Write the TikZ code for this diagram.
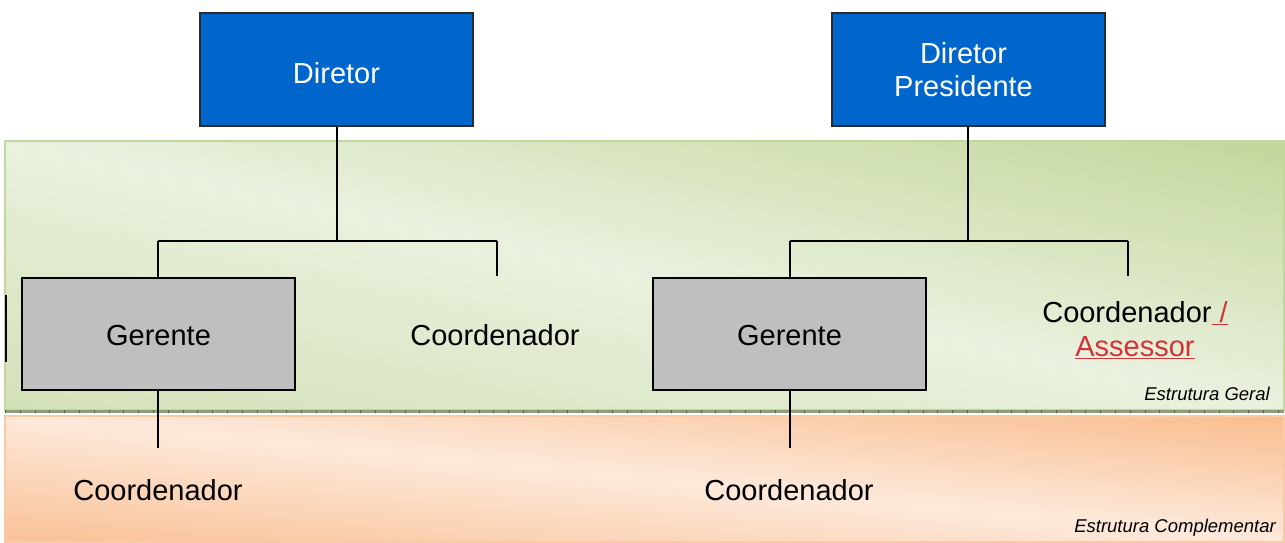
\documentclass[tikz,border=0pt]{standalone}
\usepackage{fontspec}
\setmainfont{Liberation Sans}
\definecolor{blueBox}{HTML}{0066CC}
\definecolor{blueEdge}{HTML}{2B2B2B}
\definecolor{grayBox}{HTML}{BFBFBF}
\definecolor{gDark}{HTML}{C3D69B}
\definecolor{gLight}{HTML}{EAF1DE}
\definecolor{gMid}{HTML}{D3E1B8}
\definecolor{oDark}{HTML}{F9BD8E}
\definecolor{oLight}{HTML}{FDE9DB}
\definecolor{oMid}{HTML}{F9C196}
\definecolor{sepCol}{HTML}{8E9E78}
\definecolor{redLink}{HTML}{D13438}
\tikzset{
  topbox/.style={draw=blueEdge, line width=1.5pt, fill=blueBox, text=white, minimum width=273pt, minimum height=113pt, inner sep=0pt, align=center, font=\fontsize{29}{33}\selectfont},
  grbox/.style={draw=black, line width=1.8pt, fill=grayBox, minimum width=273pt, minimum height=112pt, inner sep=0pt, font=\fontsize{29}{33}\selectfont, text height=23pt, text depth=0pt},
  plain/.style={inner sep=0pt, align=center, font=\fontsize{29}{34}\selectfont},
  band/.style={font=\fontsize{18.5}{20}\selectfont\itshape, inner sep=0pt},
  conn/.style={line width=1.5pt, draw=black}
}
% stripes: center (#1,#2), diagonal unit vector (#3,#4), half width #5, colours low/mid/high #6 #7 #8
\newcommand\bandgrad[8]{%
  \foreach \k in {-30,...,29}{%
    \pgfmathsetmacro\ta{\k/30}%
    \pgfmathsetmacro\tb{(\k+1.3)/30}%
    \pgfmathsetmacro\tm{(\k+0.5)/30}%
    \pgfmathsetmacro\nx{#4}%
    \pgfmathsetmacro\ny{-#3}%
    \pgfmathsetmacro\ax{#1+\ta*#5*\nx-800*#3}%
    \pgfmathsetmacro\ay{#2+\ta*#5*\ny-800*#4}%
    \pgfmathsetmacro\bx{#1+\ta*#5*\nx+800*#3}%
    \pgfmathsetmacro\by{#2+\ta*#5*\ny+800*#4}%
    \pgfmathsetmacro\cx{#1+\tb*#5*\nx+800*#3}%
    \pgfmathsetmacro\cy{#2+\tb*#5*\ny+800*#4}%
    \pgfmathsetmacro\dx{#1+\tb*#5*\nx-800*#3}%
    \pgfmathsetmacro\dy{#2+\tb*#5*\ny-800*#4}%
    \ifdim\tm pt<0pt
      \pgfmathsetmacro\pp{-100*\tm}%
      \colorlet{stripecol}{#6!\pp!#7}%
    \else
      \pgfmathsetmacro\pp{100*\tm}%
      \colorlet{stripecol}{#8!\pp!#7}%
    \fi
    \fill[stripecol] (\ax,\ay) -- (\bx,\by) -- (\cx,\cy) -- (\dx,\dy) -- cycle;
  }%
}
\begin{document}
\begin{tikzpicture}[x=1pt,y=-1pt]
\useasboundingbox (0,0) rectangle (1285,543);
% green band
\begin{scope}
\clip (5,141) rectangle (1284,410);
\bandgrad{644.5}{275.5}{0.9786}{0.2058}{264}{gMid}{gLight}{gDark}
\end{scope}
\draw[gDark, line width=2pt] (5,141) rectangle (1284,410);
% orange band
\begin{scope}
\clip (5,416) rectangle (1284,542);
\bandgrad{644.5}{479}{0.9952}{0.0980}{126}{oMid}{oLight}{oDark}
\end{scope}
\draw[oDark!80, line width=1.5pt] (5,416) rectangle (1284,542);
% separator
\draw[sepCol, line width=2.5pt] (5,411.5) -- (1284,411.5);
\draw[sepCol!60!black, line width=2.5pt, dash pattern=on 0.8pt off 14pt] (5,411.5) -- (1284,411.5);
% left mark
\coordinate (m1) at (6,295);
\coordinate (m2) at (6,362);
\draw[line width=2pt] (m1) -- (m2);
% nodes
\node[topbox, text height=27pt, text depth=0pt] (dir) at (336.5,69.5) {Diretor};
\node[topbox] (pres) at (968.5,69.5) {\hspace*{-10pt}Diretor\\\hspace*{-10pt}Presidente};
\node[grbox] (ger1) at (158.5,334) {Gerente};
\node[grbox] (ger2) at (789.5,334) {Gerente};
\node[plain] (coordA) at (495,335) {Coordenador};
\node[plain] (coordB) at (1135,330) {Coordenador\textcolor{redLink}{\underline{\ /}}\\\textcolor{redLink}{\underline{Assessor}}};
\node[plain] (coordC) at (158,490) {Coordenador};
\node[plain] (coordD) at (789,490) {Coordenador};
\node[band, anchor=base east] (eg) at (1270,400) {Estrutura Geral};
\node[band, anchor=base east] (ec) at (1276,532) {Estrutura Complementar};
% connectors
\coordinate (j1) at (337,241);
\coordinate (l1) at (158,241);
\coordinate (r1) at (497,241);
\coordinate (r1e) at (497,276);
\coordinate (j2) at (968,241);
\coordinate (l2) at (790,241);
\coordinate (r2) at (1128,241);
\coordinate (r2e) at (1128,276);
\coordinate (d1) at (158,448);
\coordinate (d2) at (790,448);
\draw[conn] (dir.south -| j1) -- (j1);
\draw[conn] (l1) -- (r1);
\draw[conn] (l1) -- (l1 |- ger1.north);
\draw[conn] (r1) -- (r1e);
\draw[conn] (pres.south -| j2) -- (j2);
\draw[conn] (l2) -- (r2);
\draw[conn] (l2) -- (l2 |- ger2.north);
\draw[conn] (r2) -- (r2e);
\draw[conn] (ger1.south -| d1) -- (d1);
\draw[conn] (ger2.south -| d2) -- (d2);
\end{tikzpicture}
\end{document}
